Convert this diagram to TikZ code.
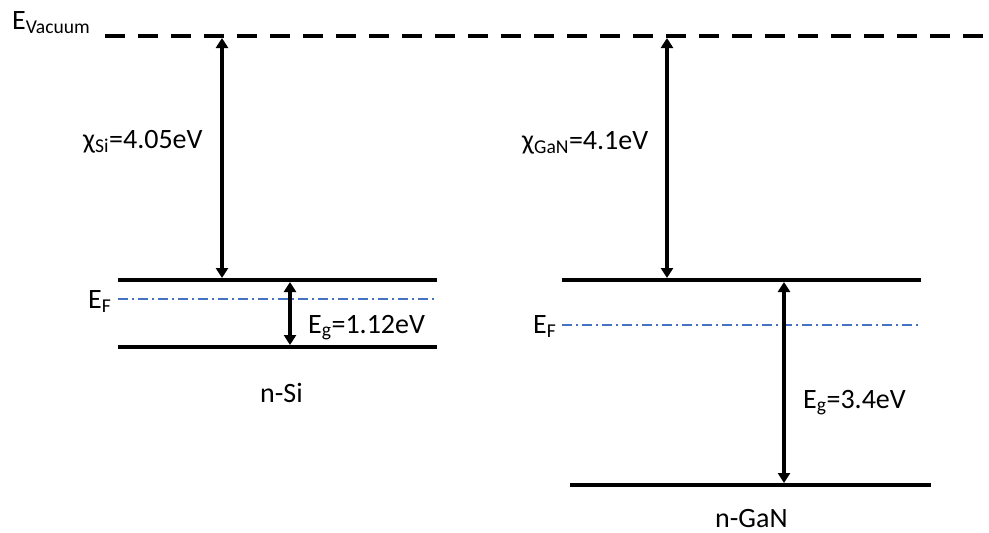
\documentclass[tikz,border=0pt]{standalone}
\usepackage{fontspec}
\setmainfont{Carlito}
\usetikzlibrary{arrows.meta,positioning}
\definecolor{fermiblue}{HTML}{4472C4}
\newcommand{\sub}[1]{\textsubscript{#1}}

\begin{document}
\begin{tikzpicture}[x=1pt,y=-1pt,
    band/.style={line width=4pt},
    fermi/.style={fermiblue,line width=1.2pt,dash pattern=on 10pt off 4pt on 2pt off 4pt},
    vac/.style={line width=4pt,dash pattern=on 20pt off 13pt},
    gaparrow/.style={{Triangle[length=10pt,width=12pt]}-{Triangle[length=10pt,width=12pt]},line width=3.2pt},
    lbl/.style={font=\fontsize{28}{32}\selectfont,inner sep=0pt}]
  \useasboundingbox (0,0) rectangle (989,533);
  % vacuum level
  \draw[vac] (105,36) -- (989,36);
  \node[lbl,anchor=base west] (vacl) at (12,29) {E\sub{Vacuum}};
  % n-Si
  \draw[band] (118,280) -- (437,280);
  \draw[band] (118,347) -- (437,347);
  \draw[fermi] (118,299) -- (437,299);
  \coordinate (siVac) at (222,38);
  \coordinate (siCB) at (222,278);
  \coordinate (siGapT) at (290,282);
  \coordinate (siGapB) at (290,345);
  \draw[gaparrow] (siVac) -- (siCB);
  \draw[gaparrow] (siGapT) -- (siGapB);
  \node[lbl,anchor=base west] (chiSi) at (83,148) {χ\sub{Si}=4.05eV};
  \node[lbl,anchor=base west] (egSi) at (308,333) {E\sub{g}=1.12eV};
  \node[lbl,anchor=base west] (efSi) at (88,308) {E\sub{F}};
  \node[lbl,anchor=base west] (nSi) at (260,402) {n-Si};
  % n-GaN
  \draw[band] (562,280) -- (921,280);
  \draw[band] (570,485) -- (931,485);
  \draw[fermi] (562,325) -- (921,325);
  \coordinate (ganVac) at (667,38);
  \coordinate (ganCB) at (667,278);
  \coordinate (ganGapT) at (784,282);
  \coordinate (ganGapB) at (784,483);
  \draw[gaparrow] (ganVac) -- (ganCB);
  \draw[gaparrow] (ganGapT) -- (ganGapB);
  \node[lbl,anchor=base west] (chiGaN) at (522,149) {χ\sub{GaN}=4.1eV};
  \node[lbl,anchor=base west] (egGaN) at (803,408) {E\sub{g}=3.4eV};
  \node[lbl,anchor=base west] (efGaN) at (533,333) {E\sub{F}};
  \node[lbl,anchor=base west] (nGaN) at (715,527) {n-GaN};
\end{tikzpicture}
\end{document}
